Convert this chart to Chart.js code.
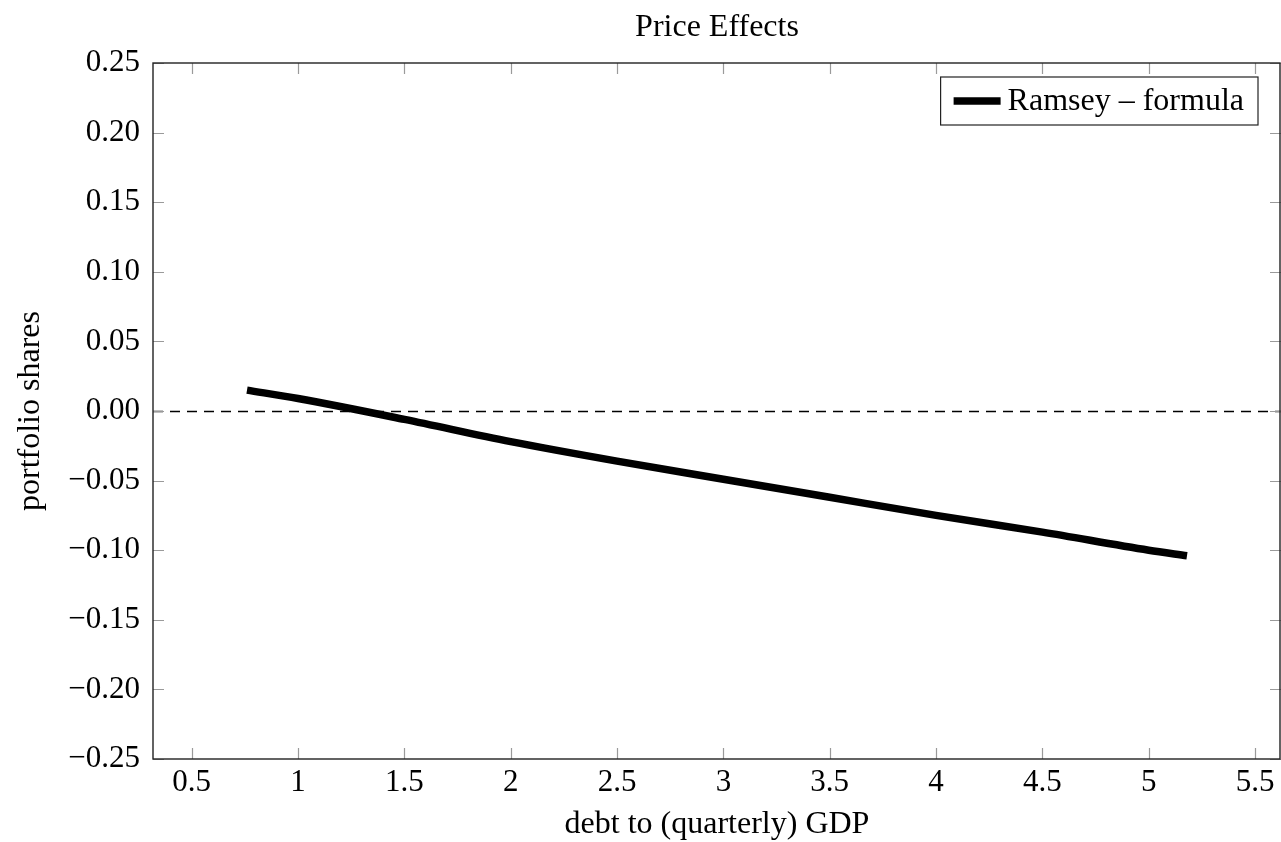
<!DOCTYPE html>
<html>
<head>
<meta charset="utf-8">
<script src="https://cdn.jsdelivr.net/npm/chart.js@4.4.1/dist/chart.umd.min.js"></script>
<style>
  html, body { margin: 0; padding: 0; background: #fff; }
  #wrap { width: 1281px; height: 842px; }
</style>
</head>
<body>
<div id="wrap"><canvas id="chart"></canvas></div>
<script>
// values
const debtToGdp = [0.76, 1.0, 1.5, 2.0, 2.5, 3.0, 3.5, 4.0, 4.5, 5.0, 5.18];
const portfolioShares = [0.015, 0.009, -0.006, -0.022, -0.036, -0.049, -0.062, -0.075, -0.087, -0.100, -0.104];
const xTickValues = [0.5, 1, 1.5, 2, 2.5, 3, 3.5, 4, 4.5, 5, 5.5];
const yTickValues = [-0.25, -0.2, -0.15, -0.1, -0.05, 0, 0.05, 0.1, 0.15, 0.2, 0.25];
const seriesLabel = 'Ramsey \u2013 formula';
const chartTitle = 'Price Effects';
const xMin = 0.318, xMax = 5.622;

const FONT = '"Liberation Serif", "Times New Roman", serif';
const TICK_SIZE = 31;
const TEXT_SIZE = 32;

const minus = s => s.replace('-', '\u2212');

// pgfplots-like frame: title over plot area, box, inward ticks, dashed zero line, boxed legend
const framePlugin = {
    id: 'frame',
    beforeDatasetsDraw(chart) {
        const { ctx, chartArea: a, scales } = chart;
        const y0 = Math.round(scales.y.getPixelForValue(0)) + 0.5;
        ctx.save();
        ctx.strokeStyle = '#000';
        ctx.lineWidth = 1.3;
        ctx.setLineDash([10, 7]);
        ctx.beginPath();
        ctx.moveTo(a.left, y0);
        ctx.lineTo(a.right, y0);
        ctx.stroke();
        ctx.restore();
    },
    afterDatasetsDraw(chart) {
        const { ctx, chartArea: a, scales } = chart;
        const len = 11;
        ctx.save();
        ctx.strokeStyle = '#9a9a9a';
        ctx.lineWidth = 1.2;
        ctx.beginPath();
        scales.x.ticks.forEach(t => {
            const px = Math.round(scales.x.getPixelForValue(t.value)) + 0.5;
            ctx.moveTo(px, a.bottom); ctx.lineTo(px, a.bottom - len);
            ctx.moveTo(px, a.top); ctx.lineTo(px, a.top + len);
        });
        scales.y.ticks.forEach(t => {
            const py = Math.round(scales.y.getPixelForValue(t.value)) + 0.5;
            ctx.moveTo(a.left, py); ctx.lineTo(a.left + len, py);
            ctx.moveTo(a.right, py); ctx.lineTo(a.right - len, py);
        });
        ctx.stroke();
        ctx.strokeStyle = '#222';
        ctx.lineWidth = 1.4;
        ctx.strokeRect(a.left, a.top, a.right - a.left - 1, a.bottom - a.top);
        ctx.restore();
    },
    afterDraw(chart) {
        const { ctx, chartArea: a } = chart;
        const ds = chart.data.datasets[0];
        ctx.save();
        ctx.font = TEXT_SIZE + 'px ' + FONT;
        ctx.fillStyle = '#000';
        // title centred over the plot area
        ctx.textAlign = 'center';
        ctx.textBaseline = 'middle';
        ctx.fillText(chartTitle, (a.left + a.right) / 2, 28);
        // legend
        ctx.textAlign = 'left';
        const tw = ctx.measureText(ds.label).width;
        const right = a.right - 23, top = a.top + 14, h = 48;
        const left = right - (13 + 47 + 7 + tw + 14);
        ctx.fillStyle = '#fff';
        ctx.fillRect(left, top, right - left, h);
        ctx.strokeStyle = '#222';
        ctx.lineWidth = 1.2;
        ctx.strokeRect(left, top, right - left, h);
        ctx.strokeStyle = ds.borderColor;
        ctx.lineWidth = ds.borderWidth;
        ctx.beginPath();
        ctx.moveTo(left + 13, top + h / 2);
        ctx.lineTo(left + 60, top + h / 2);
        ctx.stroke();
        ctx.fillStyle = '#000';
        ctx.fillText(ds.label, left + 67, top + h / 2 + 1);
        ctx.restore();
    }
};

new Chart(document.getElementById('chart'), {
    type: 'line',
    data: {
        datasets: [{
            label: seriesLabel,
            data: debtToGdp.map((x, i) => ({ x: x, y: portfolioShares[i] })),
            borderColor: '#000',
            borderWidth: 7.5,
            pointRadius: 0,
            cubicInterpolationMode: 'monotone',
            fill: false
        }]
    },
    options: {
        responsive: true,
        maintainAspectRatio: false,
        animation: false,
        layout: { padding: { top: 63, right: 0, bottom: 0, left: 0 } },
        plugins: {
            legend: { display: false },
            tooltip: { enabled: false },
            title: { display: false }
        },
        scales: {
            x: {
                type: 'linear',
                min: xMin,
                max: xMax,
                grid: { display: false, drawTicks: false },
                border: { display: false },
                afterBuildTicks: s => { s.ticks = xTickValues.map(v => ({ value: v })); },
                afterFit: s => { s.height = 83; },
                ticks: {
                    color: '#000',
                    padding: 5,
                    maxRotation: 0,
                    font: { family: FONT, size: TICK_SIZE },
                    callback: v => minus(String(v))
                },
                title: {
                    display: true,
                    text: 'debt to (quarterly) GDP',
                    color: '#000',
                    font: { family: FONT, size: TEXT_SIZE },
                    padding: { top: 0, bottom: -2 }
                }
            },
            y: {
                min: -0.25,
                max: 0.25,
                grid: { display: false, drawTicks: false },
                border: { display: false },
                afterBuildTicks: s => { s.ticks = yTickValues.map(v => ({ value: v })); },
                afterFit: s => { s.width = 153; },
                ticks: {
                    color: '#000',
                    padding: 13,
                    font: { family: FONT, size: TICK_SIZE },
                    callback: v => minus(v.toFixed(2))
                },
                title: {
                    display: true,
                    text: 'portfolio shares',
                    color: '#000',
                    font: { family: FONT, size: TEXT_SIZE },
                    padding: { top: 11, bottom: 0 }
                }
            }
        }
    },
    plugins: [framePlugin]
});
</script>
</body>
</html>
